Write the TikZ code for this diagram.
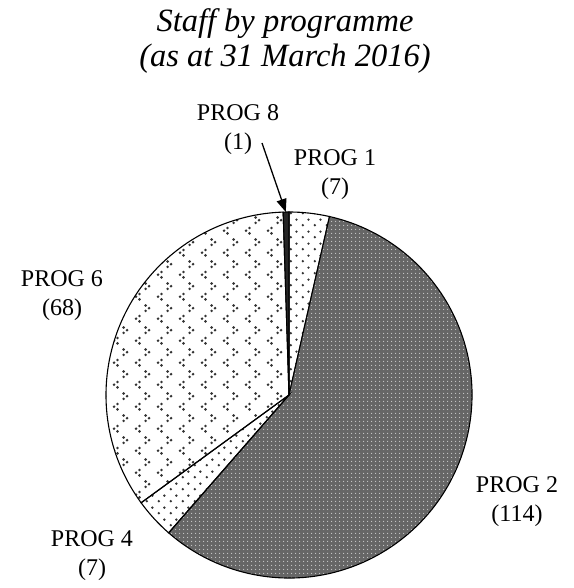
\documentclass[tikz,border=0pt]{standalone}
\usepackage{fontspec}
\setmainfont{Liberation Serif}
\usetikzlibrary{arrows.meta, patterns, patterns.meta}

% fill patterns for the slices
\pgfdeclarepatternformonly{sparsedots}{\pgfqpoint{0pt}{0pt}}{\pgfqpoint{12pt}{12pt}}{\pgfqpoint{12pt}{12pt}}{%
  \pgfpathcircle{\pgfqpoint{3pt}{3pt}}{1.4pt}%
  \pgfpathcircle{\pgfqpoint{9pt}{9pt}}{1.4pt}%
  \pgfusepath{fill}}
\pgfdeclarepatternformonly{chevrons}{\pgfqpoint{0pt}{0pt}}{\pgfqpoint{22pt}{22pt}}{\pgfqpoint{22pt}{22pt}}{%
  \pgfpathcircle{\pgfqpoint{7.8pt}{8.3pt}}{1.5pt}%
  \pgfpathcircle{\pgfqpoint{4.2pt}{5.5pt}}{1.5pt}%
  \pgfpathcircle{\pgfqpoint{7.8pt}{2.7pt}}{1.5pt}%
  \pgfpathcircle{\pgfqpoint{14.2pt}{19.3pt}}{1.5pt}%
  \pgfpathcircle{\pgfqpoint{17.8pt}{16.5pt}}{1.5pt}%
  \pgfpathcircle{\pgfqpoint{14.2pt}{13.7pt}}{1.5pt}%
  \pgfusepath{fill}}

\begin{document}
\begin{tikzpicture}[x=1pt, y=1pt,
  slice/.style={draw=black, line width=1.1pt},
  lbl/.style={font=\fontsize{24}{29}\selectfont, align=center, inner sep=0pt}]
\useasboundingbox (0,0) rectangle (573,588);

% Title
\node[font=\fontsize{32.5}{35}\selectfont\itshape, align=center, inner sep=0pt] (title) at (285,547)
  {Staff by programme\\(as at 31 March 2016)};

% Pie centre
\coordinate (O) at (289,193);

% Slices, clockwise from the top (total 197)
% PROG 1
\draw[slice, pattern=sparsedots, pattern color=black!80]
  (O) -- ++(90:183) arc[start angle=90, end angle=77.21, radius=183] -- cycle;
% PROG 2
\draw[slice, preaction={fill=black!60}, pattern={Dots[distance=4pt, radius=0.8pt]}, pattern color=white!80!black]
  (O) -- ++(77.21:183) arc[start angle=77.21, end angle=-131.12, radius=183] -- cycle;
% PROG 4
\draw[slice, pattern=sparsedots, pattern color=black!80]
  (O) -- ++(-131.12:183) arc[start angle=-131.12, end angle=-143.91, radius=183] -- cycle;
% PROG 6
\draw[slice, pattern=chevrons, pattern color=black!80]
  (O) -- ++(-143.91:183) arc[start angle=-143.91, end angle=-268.17, radius=183] -- cycle;
% PROG 8
\draw[slice, fill=black!85]
  (O) -- ++(91.83:183) arc[start angle=91.83, end angle=90, radius=183] -- cycle;

% Labels
\node[lbl] (p8) at (238,458) {PROG 8\\(1)};
\node[lbl] (p1) at (335,413) {PROG 1\\(7)};
\node[lbl] (p6) at (62,292) {PROG 6\\(68)};
\node[lbl] (p2) at (517,86) {PROG 2\\(114)};
\node[lbl] (p4) at (92,32) {PROG 4\\(7)};

% Pointer to the small slice
\coordinate (p8tail) at (262,445);
\path (O) ++(91:183) coordinate (p8tip);
\draw[line width=1.3pt, -{Triangle[length=13pt, width=10pt]}] (p8tail) -- (p8tip);
\end{tikzpicture}
\end{document}
